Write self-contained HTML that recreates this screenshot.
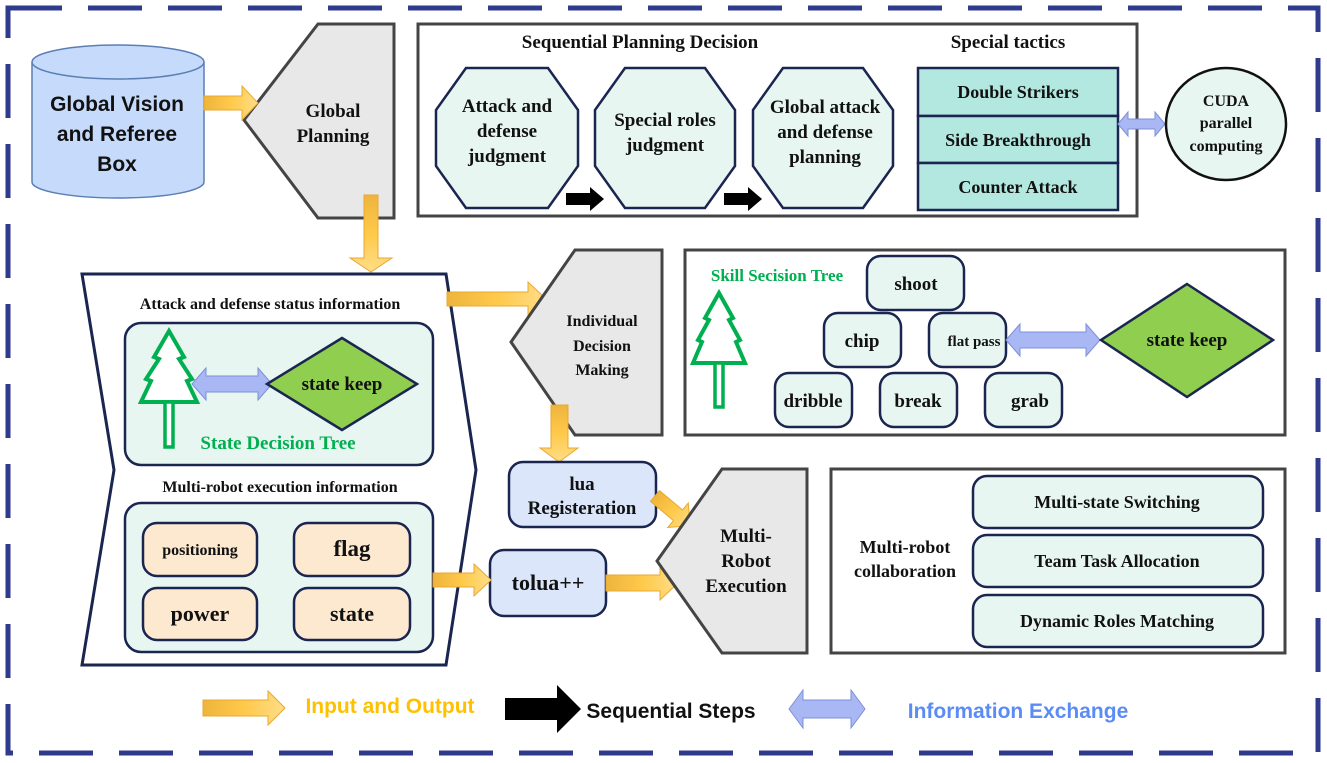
<!DOCTYPE html>
<html><head><meta charset="utf-8"><style>
html,body{margin:0;padding:0;background:#fff}
svg{display:block}
.s{font-family:"Liberation Serif",serif;font-weight:bold;fill:#111;text-anchor:middle}
.a{font-family:"Liberation Sans",sans-serif;font-weight:bold;text-anchor:middle}
</style></head><body>
<svg width="1327" height="763" viewBox="0 0 1327 763" xmlns="http://www.w3.org/2000/svg">
<defs>
<linearGradient id="og" x1="0" y1="0" x2="1" y2="0"><stop offset="0" stop-color="#eeb43c"/><stop offset="0.5" stop-color="#ffc94a"/><stop offset="1" stop-color="#ffdd88"/></linearGradient>
<linearGradient id="ogv" x1="0" y1="0" x2="0" y2="1"><stop offset="0" stop-color="#eeb43c"/><stop offset="0.5" stop-color="#ffc94a"/><stop offset="1" stop-color="#ffdd88"/></linearGradient>
</defs>
<rect x="8" y="8" width="1310" height="745" fill="none" stroke="#2e3a8c" stroke-width="5" stroke-dasharray="54,26"/>

<path d="M32,62 L32,182 A86,16 0 0 0 204,182 L204,62" fill="#c6dbfb" stroke="#5b7fb5" stroke-width="1.5"/>
<ellipse cx="118" cy="62" rx="86" ry="17" fill="#c6dbfb" stroke="#5b7fb5" stroke-width="1.5"/>
<text class="a" font-size="21" fill="#111" x="117" y="111">Global Vision</text>
<text class="a" font-size="21" fill="#111" x="117" y="141">and Referee</text>
<text class="a" font-size="21" fill="#111" x="117" y="171">Box</text>

<polygon points="318,24 394,24 394,218 318,218 244,120" fill="#e8e8e8" stroke="#444" stroke-width="3"/>
<text class="s" font-size="19" x="333" y="117">Global</text>
<text class="s" font-size="19" x="333" y="142">Planning</text>

<polygon points="204,96 242,96 242,86 258,103 242,120 242,110 204,110" fill="url(#og)" stroke="#e8a830" stroke-width="1"/>
<polygon points="364,195 378,195 378,258 392,258 371,272 350,258 364,258" fill="url(#ogv)" stroke="#e8a830" stroke-width="1"/>

<rect x="418" y="24" width="719" height="192" fill="#fff" stroke="#444" stroke-width="3"/>
<text class="s" font-size="19" x="640" y="48">Sequential Planning Decision</text>
<text class="s" font-size="19" x="1008" y="48">Special tactics</text>
<g fill="#e8f6f2" stroke="#1a2550" stroke-width="2.5">
<polygon points="466,68 548,68 578,110 578,166 548,208 466,208 436,166 436,110"/>
<polygon points="625,68 705,68 735,110 735,166 705,208 625,208 595,166 595,110"/>
<polygon points="783,68 863,68 893,110 893,166 863,208 783,208 753,166 753,110"/>
</g>
<text class="s" font-size="19" x="507" y="112">Attack and</text>
<text class="s" font-size="19" x="507" y="137">defense</text>
<text class="s" font-size="19" x="507" y="162">judgment</text>
<text class="s" font-size="19" x="665" y="126">Special roles</text>
<text class="s" font-size="19" x="665" y="151">judgment</text>
<text class="s" font-size="19" x="825" y="113">Global attack</text>
<text class="s" font-size="19" x="825" y="138">and defense</text>
<text class="s" font-size="19" x="825" y="163">planning</text>
<polygon points="566,193 590,193 590,187 604,199 590,211 590,205 566,205" fill="#000"/>
<polygon points="724,193 748,193 748,187 762,199 748,211 748,205 724,205" fill="#000"/>
<g fill="#b3e8e0" stroke="#1a2550" stroke-width="2.5">
<rect x="918" y="68" width="200" height="48"/>
<rect x="918" y="116" width="200" height="47"/>
<rect x="918" y="163" width="200" height="47"/>
</g>
<text class="s" font-size="18" x="1018" y="98">Double Strikers</text>
<text class="s" font-size="18" x="1018" y="146">Side Breakthrough</text>
<text class="s" font-size="18" x="1018" y="193">Counter Attack</text>
<polygon points="1118,124 1128,112 1128,119 1155,119 1155,112 1165,124 1155,136 1155,129 1128,129 1128,136" fill="#a9b8f5" stroke="#7d8fd8" stroke-width="1"/>
<ellipse cx="1226" cy="124" rx="60" ry="56" fill="#e8f6f2" stroke="#111" stroke-width="2.5"/>
<text class="s" font-size="16" x="1226" y="106">CUDA</text>
<text class="s" font-size="16" x="1226" y="128">parallel</text>
<text class="s" font-size="16" x="1226" y="151">computing</text>

<polygon points="82,274 446,274 476,470 446,665 82,665 114,470" fill="#fff" stroke="#1a2550" stroke-width="3"/>
<text class="s" font-size="16" x="270" y="309">Attack and defense status information</text>
<rect x="125" y="323" width="308" height="142" rx="16" fill="#e8f6f2" stroke="#1a2550" stroke-width="2.5"/>
<polygon points="169,331 184,357 179,359 192,379 187,381 197,402 141,402 151,381 146,379 159,359 154,357" fill="#fff" stroke="#00b050" stroke-width="4"/>
<rect x="165" y="402" width="8" height="45" fill="#fff" stroke="#00b050" stroke-width="3.5"/>
<polygon points="192,384 206,368 206,376 258,376 258,368 272,384 258,400 258,392 206,392 206,400" fill="#a9b8f5" stroke="#7d8fd8" stroke-width="1"/>
<polygon points="342,338 417,384 342,430 267,384" fill="#8fce4e" stroke="#1a2550" stroke-width="2.5"/>
<text class="s" font-size="19" x="342" y="390">state keep</text>
<text class="s" font-size="19" x="278" y="449" style="fill:#00b050">State Decision Tree</text>
<text class="s" font-size="16" x="280" y="492">Multi-robot execution information</text>
<rect x="125" y="503" width="308" height="149" rx="16" fill="#e8f6f2" stroke="#1a2550" stroke-width="2.5"/>
<g fill="#fde9d0" stroke="#1a2550" stroke-width="2.5">
<rect x="143" y="523" width="114" height="53" rx="14"/>
<rect x="294" y="523" width="116" height="53" rx="14"/>
<rect x="143" y="588" width="114" height="52" rx="14"/>
<rect x="294" y="588" width="116" height="52" rx="14"/>
</g>
<text class="s" font-size="16" x="200" y="555">positioning</text>
<text class="s" font-size="23" x="352" y="556">flag</text>
<text class="s" font-size="22" x="200" y="621">power</text>
<text class="s" font-size="22" x="352" y="621">state</text>

<polygon points="447,292 528,292 528,282 546,299 528,316 528,306 447,306" fill="url(#og)" stroke="#e8a830" stroke-width="1"/>
<polygon points="575,250 662,250 662,435 575,435 511,342" fill="#e8e8e8" stroke="#444" stroke-width="3"/>
<text class="s" font-size="16" x="602" y="326">Individual</text>
<text class="s" font-size="16" x="602" y="351">Decision</text>
<text class="s" font-size="16" x="602" y="375">Making</text>
<polygon points="551,405 568,405 568,448 578,448 559,462 540,448 551,448" fill="url(#ogv)" stroke="#e8a830" stroke-width="1"/>

<rect x="509" y="462" width="147" height="65" rx="14" fill="#dbe6fb" stroke="#1a2550" stroke-width="2.5"/>
<text class="s" font-size="19" x="582" y="490">lua</text>
<text class="s" font-size="19" x="582" y="514">Registeration</text>
<g transform="translate(655,496) rotate(40)">
<polygon points="0,-7 30,-7 30,-16 46,0 30,16 30,7 0,7" fill="url(#og)" stroke="#e8a830" stroke-width="1"/>
</g>
<rect x="490" y="550" width="116" height="66" rx="14" fill="#dbe6fb" stroke="#1a2550" stroke-width="2.5"/>
<text class="s" font-size="22" x="548" y="590">tolua++</text>
<polygon points="433,573 474,573 474,564 491,580 474,596 474,587 433,587" fill="url(#og)" stroke="#e8a830" stroke-width="1"/>
<polygon points="606,575 660,575 660,566 678,583 660,600 660,591 606,591" fill="url(#og)" stroke="#e8a830" stroke-width="1"/>
<polygon points="722,469 807,469 807,653 722,653 657,561" fill="#e8e8e8" stroke="#444" stroke-width="3"/>
<text class="s" font-size="19" x="746" y="542">Multi-</text>
<text class="s" font-size="19" x="746" y="567">Robot</text>
<text class="s" font-size="19" x="746" y="592">Execution</text>

<rect x="685" y="250" width="600" height="185" fill="#fff" stroke="#444" stroke-width="3"/>
<text class="s" font-size="17" x="777" y="281" style="fill:#00b050">Skill Secision Tree</text>
<polygon points="719,293 733,318 729,320 740,340 736,342 745,363 693,363 702,342 698,340 709,320 705,318" fill="#fff" stroke="#00b050" stroke-width="4"/>
<rect x="715" y="363" width="8" height="44" fill="#fff" stroke="#00b050" stroke-width="3.5"/>
<g fill="#e8f6f2" stroke="#1a2550" stroke-width="2.5">
<rect x="867" y="256" width="97" height="54" rx="14"/>
<rect x="824" y="313" width="77" height="54" rx="14"/>
<rect x="929" y="313" width="77" height="54" rx="14"/>
<rect x="775" y="373" width="77" height="54" rx="14"/>
<rect x="880" y="373" width="77" height="54" rx="14"/>
<rect x="985" y="373" width="77" height="54" rx="14"/>
</g>
<text class="s" font-size="19" x="916" y="290">shoot</text>
<text class="s" font-size="19" x="862" y="347">chip</text>
<text class="s" font-size="15" x="974" y="346">flat pass</text>
<text class="s" font-size="19" x="813" y="407">dribble</text>
<text class="s" font-size="19" x="918" y="407">break</text>
<text class="s" font-size="19" x="1030" y="407">grab</text>
<polygon points="1006,340 1020,324 1020,332 1086,332 1086,324 1100,340 1086,356 1086,348 1020,348 1020,356" fill="#a9b8f5" stroke="#7d8fd8" stroke-width="1"/>
<polygon points="1187,284 1273,340 1187,397 1101,340" fill="#8fce4e" stroke="#1a2550" stroke-width="2.5"/>
<text class="s" font-size="19" x="1187" y="346">state keep</text>

<rect x="831" y="469" width="454" height="184" fill="#fff" stroke="#444" stroke-width="3"/>
<text class="s" font-size="18" x="905" y="553">Multi-robot</text>
<text class="s" font-size="18" x="905" y="577">collaboration</text>
<g fill="#e8f6f2" stroke="#1a2550" stroke-width="2.5">
<rect x="973" y="476" width="290" height="52" rx="14"/>
<rect x="973" y="535" width="290" height="52" rx="14"/>
<rect x="973" y="595" width="290" height="52" rx="14"/>
</g>
<text class="s" font-size="18" x="1117" y="508">Multi-state Switching</text>
<text class="s" font-size="18" x="1117" y="567">Team Task Allocation</text>
<text class="s" font-size="18" x="1117" y="627">Dynamic Roles Matching</text>

<polygon points="203,700 268,700 268,691 285,708 268,725 268,716 203,716" fill="url(#og)" stroke="#e8a830" stroke-width="1"/>
<text class="a" font-size="21" x="390" y="713" fill="#ffc000">Input and Output</text>
<polygon points="505,698 557,698 557,685 581,709 557,733 557,720 505,720" fill="#000"/>
<text class="a" font-size="21" x="671" y="718" fill="#111">Sequential Steps</text>
<polygon points="789,709 803,690 803,700 851,700 851,690 865,709 851,728 851,718 803,718 803,728" fill="#a9b8f5" stroke="#7d8fd8" stroke-width="1"/>
<text class="a" font-size="21" x="1018" y="718" fill="#5b8cf5">Information Exchange</text>
</svg>
</body></html>
